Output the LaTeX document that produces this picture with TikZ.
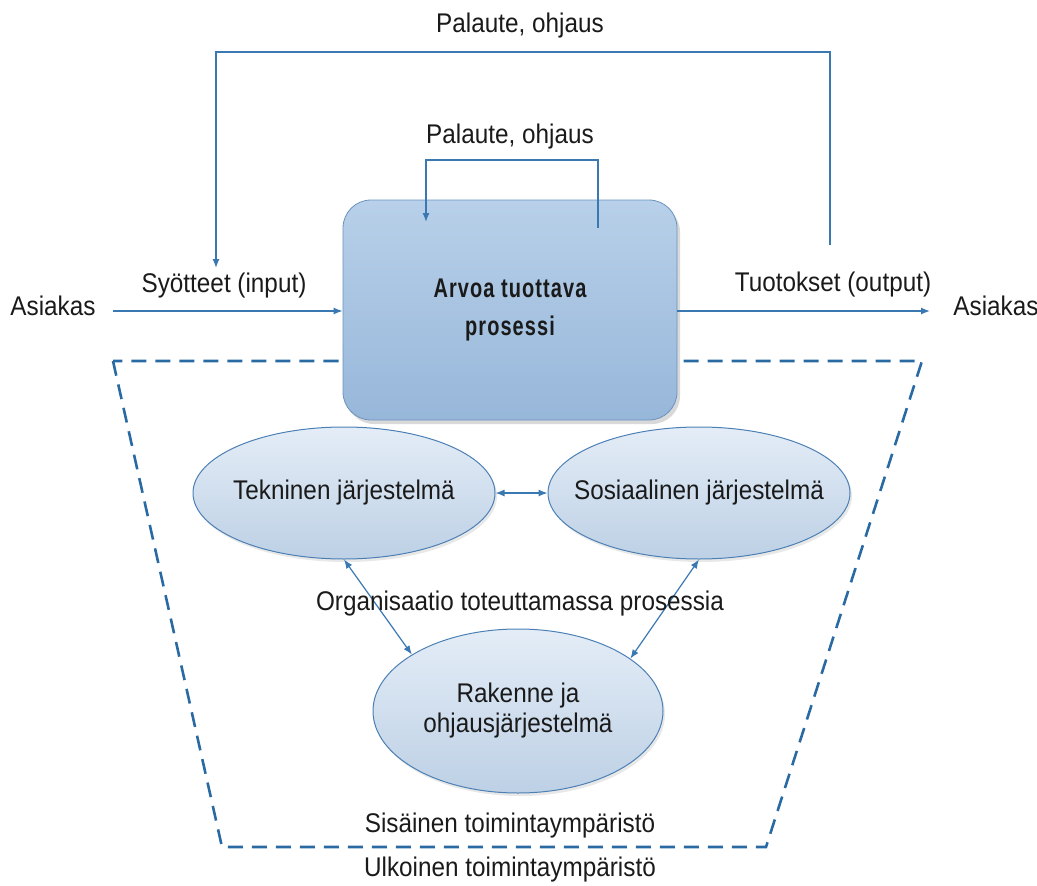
\documentclass[tikz,border=0pt]{standalone}
\usepackage{fontspec}
\setmainfont{Liberation Sans}[FakeStretch=0.9]
\newfontfamily\procfont{Liberation Sans}[FakeStretch=0.74,LetterSpace=4]
\usetikzlibrary{arrows.meta,shapes.geometric,shadows}
\definecolor{lineblue}{HTML}{3A78B2}
\definecolor{dashblue}{HTML}{2A6AA3}
\definecolor{ellborder}{HTML}{4C80B4}
\definecolor{elltop}{HTML}{E4EDF7}
\definecolor{ellbot}{HTML}{BDD0E5}
\definecolor{boxtop}{HTML}{B8D0E9}
\definecolor{boxbot}{HTML}{97B7DA}
\definecolor{boxborder}{HTML}{6A93BF}
\definecolor{txt}{HTML}{1A1A1A}
\tikzset{
  lbl/.style={text=txt, inner sep=0pt, font=\fontsize{27}{32}\selectfont},
  conn/.style={draw=lineblue, line width=1.3pt, -{Latex[length=9pt,width=7pt]}},
  dbl/.style={draw=lineblue, line width=1.2pt, {Latex[length=9pt,width=7pt]}-{Latex[length=9pt,width=7pt]}},
  ell/.style={ellipse, draw=ellborder, line width=1pt, top color=elltop, bottom color=ellbot, text=txt, align=center, font=\fontsize{27}{30}\selectfont, inner xsep=-24pt, inner ysep=0pt,
    drop shadow={shadow xshift=2pt, shadow yshift=-3pt, opacity=0.18}},
  procbox/.style={rectangle, rounded corners=28pt, draw=boxborder, line width=0.8pt, top color=boxtop, bottom color=boxbot, minimum width=334pt, minimum height=220pt, align=center, text=txt, font=\procfont\bfseries\fontsize{27}{38}\selectfont, drop shadow={shadow xshift=3pt, shadow yshift=-4pt, opacity=0.3}},
  envline/.style={draw=dashblue, line width=2.6pt, dash pattern=on 15pt off 9pt}
}
\begin{document}
\begin{tikzpicture}[x=1pt,y=-1pt]
\useasboundingbox (0,0) rectangle (1037,886);
% environment trapezoid
\draw[envline] (113,361) -- (222,847) -- (766,847) -- (922,361) -- cycle;
% process box
\node[procbox] (proc) at (510,310) {Arvoa tuottava\\prosessi};
% customers
\node[lbl] (asiL) at (53,306) {Asiakas};
\node[lbl] (asiR) at (996,306) {Asiakas};
\coordinate (inStart) at (113,311);
\coordinate (outEnd) at (930,311);
\draw[conn] (inStart) -- (proc.west |- inStart);
\draw[conn] (proc.east |- outEnd) -- (outEnd);
\node[lbl] (syo) at (224,286) {Syötteet (input)};
\node[lbl] (tuo) at (833,285) {Tuotokset (output)};
% outer feedback
\coordinate (o1) at (830,245);
\coordinate (o2) at (830,52);
\coordinate (o3) at (216,52);
\coordinate (o4) at (216,268);
\draw[conn] (o1) -- (o2) -- (o3) -- (o4);
\node[lbl] (pal1) at (520,26) {Palaute, ohjaus};
% inner feedback
\coordinate (i1) at (598,228);
\coordinate (i2) at (598,160);
\coordinate (i3) at (426,160);
\coordinate (i4) at (426,222);
\draw[conn] (i1) -- (i2) -- (i3) -- (i4);
\node[lbl] (pal2) at (510,137) {Palaute, ohjaus};
% ellipses
\node[ell, minimum width=302pt, minimum height=132pt] (tek) at (344,493) {Tekninen järjestelmä};
\node[ell, minimum width=302pt, minimum height=132pt] (sos) at (699,493) {Sosiaalinen järjestelmä};
\node[ell, minimum width=290pt, minimum height=164pt] (rak) at (518,711) {Rakenne ja\\ohjausjärjestelmä};
\draw[dbl] (tek) -- (sos);
\draw[dbl] (tek.south) -- (rak.152);
\draw[dbl] (sos.south) -- (rak.25);
\node[lbl] (org) at (520,604) {Organisaatio toteuttamassa prosessia};
\node[lbl] (sis) at (510,826) {Sisäinen toimintaympäristö};
\node[lbl] (ulk) at (510,870) {Ulkoinen toimintaympäristö};
\end{tikzpicture}
\end{document}
